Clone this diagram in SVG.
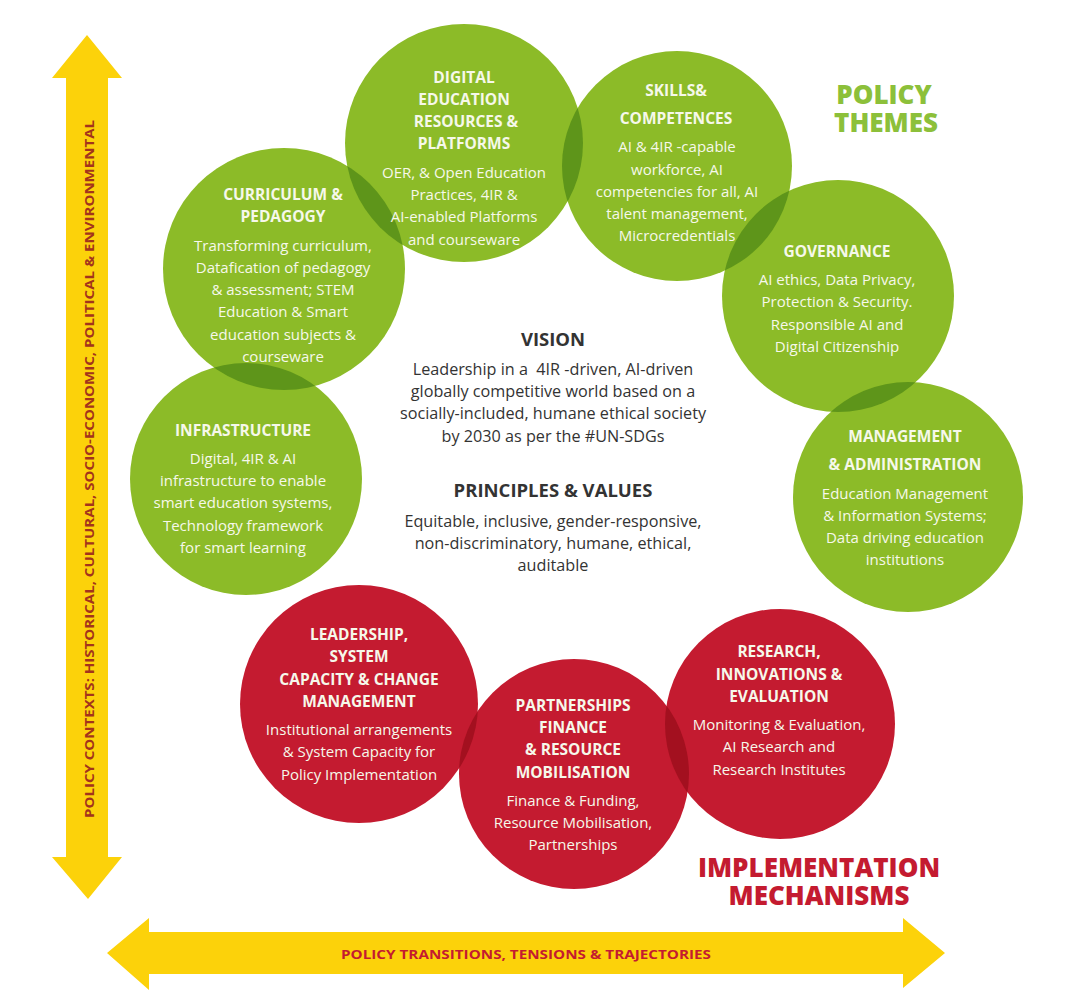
<svg xmlns="http://www.w3.org/2000/svg" width="1080" height="1004" viewBox="0 0 1080 1004">
<style>
.g{fill:#8cbb28}
.gd{fill:#5e951a}
.r{fill:#c41b30}
.rd{fill:#a3101f}
.arrow{fill:#fcd20a}
text{font-family:"Open Sans","Noto Sans","Liberation Sans",sans-serif;text-anchor:middle}
.h{font-weight:700;font-size:15.5px;fill:#f6f8ea}
.b{font-size:15px;fill:#f6f8ea}
.hc{font-weight:700;font-size:18.5px;fill:#333333}
.bc{font-size:16.2px;fill:#333333}
.big{font-weight:800;font-size:26px}
</style>
<defs>
<clipPath id="cp-infra"><circle cx="246" cy="479" r="116"/></clipPath>
<clipPath id="cp-curr"><circle cx="284" cy="269" r="121"/></clipPath>
<clipPath id="cp-dig"><circle cx="464" cy="143" r="119"/></clipPath>
<clipPath id="cp-gov"><circle cx="838" cy="296" r="116"/></clipPath>
<clipPath id="cp-lead"><circle cx="359" cy="704" r="119"/></clipPath>
<clipPath id="cp-part"><circle cx="574" cy="774" r="115"/></clipPath>
</defs>
<rect width="1080" height="1004" fill="#ffffff"/>

<g id="axes">
<polygon class="arrow" points="87,35 122,78 108,78 108,857 122,857 88,899 52,857 66,857 66,78 52,78"/>
<polygon class="arrow" points="107,953 149,918 149,932 903,932 903,918 945,953 903,988 903,974 149,974 149,990"/>
<text transform="translate(94,469) rotate(-90)" x="0" y="0" font-weight="700" font-size="13" fill="#a3331c" textLength="698" lengthAdjust="spacingAndGlyphs">POLICY CONTEXTS: HISTORICAL, CULTURAL, SOCIO-ECONOMIC, POLITICAL &amp; ENVIRONMENTAL</text>
<text x="526" y="959" font-weight="700" font-size="13" fill="#c41b30" textLength="370" lengthAdjust="spacingAndGlyphs">POLICY TRANSITIONS, TENSIONS &amp; TRAJECTORIES</text>
</g>

<g id="title-themes">
<text class="big" fill="#8cc03a"><tspan x="884" y="104">POLICY</tspan><tspan x="886" y="132">THEMES</tspan></text>
</g>
<g id="title-mechanisms">
<text class="big" fill="#c41b30"><tspan x="819" y="877">IMPLEMENTATION</tspan><tspan x="819" y="905">MECHANISMS</tspan></text>
</g>

<g id="infrastructure">
<circle class="g" cx="246" cy="479" r="116"/>
<text class="h" x="243" y="436">INFRASTRUCTURE</text>
<text class="b" x="243" y="464">Digital, 4IR &amp; AI</text>
<text class="b" x="243" y="486">infrastructure to enable</text>
<text class="b" x="243" y="508">smart education systems,</text>
<text class="b" x="243" y="531">Technology framework</text>
<text class="b" x="243" y="553">for smart learning</text>
</g>

<g id="curriculum">
<circle class="g" cx="284" cy="269" r="121"/>
<circle class="gd" cx="284" cy="269" r="121" clip-path="url(#cp-infra)"/>
<text class="h" x="283" y="200">CURRICULUM &amp;</text>
<text class="h" x="283" y="222">PEDAGOGY</text>
<text class="b" x="283" y="251">Transforming curriculum,</text>
<text class="b" x="283" y="273">Datafication of pedagogy</text>
<text class="b" x="283" y="295">&amp; assessment; STEM</text>
<text class="b" x="283" y="317">Education &amp; Smart</text>
<text class="b" x="283" y="340">education subjects &amp;</text>
<text class="b" x="283" y="362">courseware</text>
</g>

<g id="digital-education">
<circle class="g" cx="464" cy="143" r="119"/>
<circle class="gd" cx="464" cy="143" r="119" clip-path="url(#cp-curr)"/>
<text class="h" x="464" y="83">DIGITAL</text>
<text class="h" x="464" y="105">EDUCATION</text>
<text class="h" x="466" y="127">RESOURCES &amp;</text>
<text class="h" x="464" y="149">PLATFORMS</text>
<text class="b" x="464" y="178">OER, &amp; Open Education</text>
<text class="b" x="464" y="200">Practices, 4IR &amp;</text>
<text class="b" x="464" y="222">AI-enabled Platforms</text>
<text class="b" x="464" y="245">and courseware</text>
</g>

<g id="governance">
<circle class="g" cx="838" cy="296" r="116"/>
<text class="h" x="837" y="257">GOVERNANCE</text>
<text class="b" x="837" y="285">AI ethics, Data Privacy,</text>
<text class="b" x="837" y="307">Protection &amp; Security.</text>
<text class="b" x="837" y="330">Responsible AI and</text>
<text class="b" x="837" y="352">Digital Citizenship</text>
</g>

<g id="skills">
<circle class="g" cx="677" cy="166" r="115"/>
<circle class="gd" cx="677" cy="166" r="115" clip-path="url(#cp-dig)"/>
<circle class="gd" cx="677" cy="166" r="115" clip-path="url(#cp-gov)"/>
<text class="h" x="676" y="96">SKILLS&amp;</text>
<text class="h" x="676" y="124">COMPETENCES</text>
<text class="b" x="677" y="152">AI &amp; 4IR -capable</text>
<text class="b" x="677" y="175">workforce, AI</text>
<text class="b" x="677" y="197">competencies for all, AI</text>
<text class="b" x="677" y="219">talent management,</text>
<text class="b" x="677" y="241">Microcredentials</text>
</g>

<g id="management">
<circle class="g" cx="908" cy="497" r="115"/>
<circle class="gd" cx="908" cy="497" r="115" clip-path="url(#cp-gov)"/>
<text class="h" x="905" y="442">MANAGEMENT</text>
<text class="h" x="905" y="470">&amp; ADMINISTRATION</text>
<text class="b" x="905" y="499">Education Management</text>
<text class="b" x="905" y="521">&amp; Information Systems;</text>
<text class="b" x="905" y="543">Data driving education</text>
<text class="b" x="905" y="565">institutions</text>
</g>

<g id="vision">
<text class="hc" x="553" y="346">VISION</text>
<text class="bc" x="553" y="375" xml:space="preserve">Leadership in a  4IR -driven, AI-driven</text>
<text class="bc" x="553" y="397">globally competitive world based on a</text>
<text class="bc" x="553" y="419">socially-included, humane ethical society</text>
<text class="bc" x="553" y="442">by 2030 as per the #UN-SDGs</text>
</g>

<g id="principles">
<text class="hc" x="553" y="497">PRINCIPLES &amp; VALUES</text>
<text class="bc" x="553" y="527">Equitable, inclusive, gender-responsive,</text>
<text class="bc" x="553" y="549">non-discriminatory, humane, ethical,</text>
<text class="bc" x="553" y="571">auditable</text>
</g>

<g id="leadership">
<circle class="r" cx="359" cy="704" r="119"/>
<text class="h" x="359" y="640">LEADERSHIP,</text>
<text class="h" x="359" y="662">SYSTEM</text>
<text class="h" x="359" y="685">CAPACITY &amp; CHANGE</text>
<text class="h" x="359" y="707">MANAGEMENT</text>
<text class="b" x="359" y="735">Institutional arrangements</text>
<text class="b" x="359" y="757">&amp; System Capacity for</text>
<text class="b" x="359" y="780">Policy Implementation</text>
</g>

<g id="partnerships">
<circle class="r" cx="574" cy="774" r="115"/>
<circle class="rd" cx="574" cy="774" r="115" clip-path="url(#cp-lead)"/>
<text class="h" x="573" y="711">PARTNERSHIPS</text>
<text class="h" x="573" y="733">FINANCE</text>
<text class="h" x="573" y="755">&amp; RESOURCE</text>
<text class="h" x="573" y="778">MOBILISATION</text>
<text class="b" x="573" y="806">Finance &amp; Funding,</text>
<text class="b" x="573" y="828">Resource Mobilisation,</text>
<text class="b" x="573" y="850">Partnerships</text>
</g>

<g id="research">
<circle class="r" cx="780" cy="724" r="115"/>
<circle class="rd" cx="780" cy="724" r="115" clip-path="url(#cp-part)"/>
<text class="h" x="779" y="657">RESEARCH,</text>
<text class="h" x="779" y="680">INNOVATIONS &amp;</text>
<text class="h" x="779" y="702">EVALUATION</text>
<text class="b" x="779" y="730">Monitoring &amp; Evaluation,</text>
<text class="b" x="779" y="752">AI Research and</text>
<text class="b" x="779" y="775">Research Institutes</text>
</g>

<g id="connectors"></g>
</svg>
